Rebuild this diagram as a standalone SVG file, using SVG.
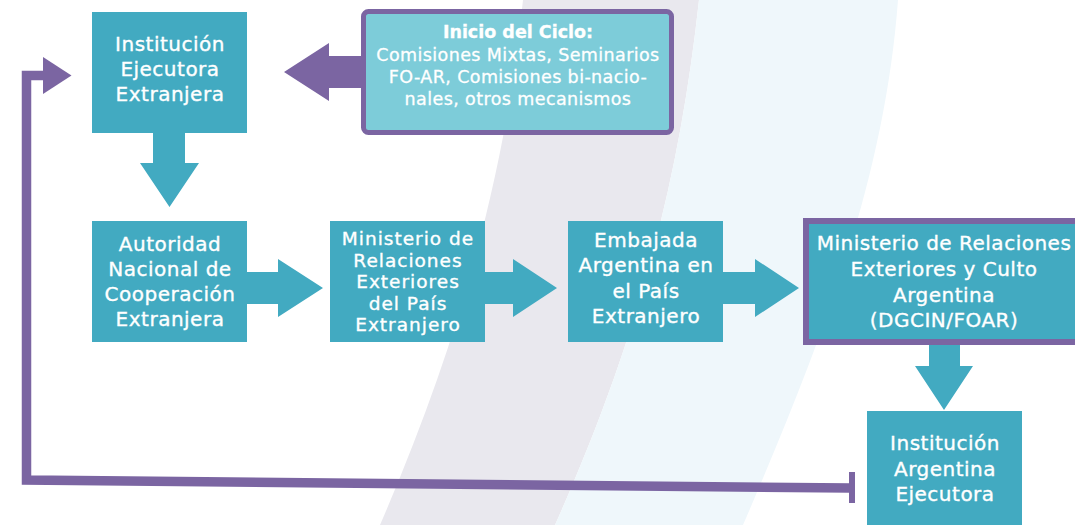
<svg xmlns="http://www.w3.org/2000/svg" width="1075" height="525" viewBox="0 0 1075 525">
<style>
.box{fill:#42aac1}
.arr{fill:#42aac1}
.t{font-family:"DejaVu Sans","Liberation Sans",sans-serif;font-size:20px;fill:#ffffff;stroke:#ffffff;stroke-width:0.35px;text-anchor:middle;letter-spacing:0.5px}
.tn{font-family:"DejaVu Sans","Liberation Sans",sans-serif;font-size:18.5px;fill:#ffffff;stroke:#ffffff;stroke-width:0.35px;text-anchor:middle;letter-spacing:1px}
.ts{font-family:"DejaVu Sans","Liberation Sans",sans-serif;font-size:17.5px;fill:#ffffff;stroke:#ffffff;stroke-width:0.3px;text-anchor:middle;letter-spacing:0.4px}
.pur{fill:#7b65a2}
</style>
<rect width="1075" height="525" fill="#ffffff"/>
<g id="background">
<path d="M523,0 L699,0 C680,175 640,335 555,525 L380,525 C460,340 505,175 523,0 Z" fill="#e9e8ee"/>
<path d="M699,0 L898,0 C885,175 825,335 743,525 L555,525 C640,335 680,175 699,0 Z" fill="#eff7fb"/>
</g>
<g id="connectors">
<path d="M153,132 H185 V163 H199 L169.5,207 L140,163 H153 Z" class="arr"/>
<path d="M361,56 V88 H329 V101 L284,72 L329,43 V56 Z" class="pur"/>
<path d="M247,272 H278 V259 L323,288 L278,317 V304 H247 Z" class="arr"/>
<path d="M485,272 H513 V259 L557,288 L513,317 V304 H485 Z" class="arr"/>
<path d="M723,272 H755 V259 L799,288 L755,317 V304 H723 Z" class="arr"/>
<path d="M929,345 H960 V366 H973 L944,410 L915,366 H929 Z" class="arr"/>
<path d="M850,488 L26.5,480 L26.5,75.5 L45,75.5" fill="none" stroke="#7b65a2" stroke-width="9.5" stroke-linejoin="miter"/>
<polygon points="43,57 71.5,75.5 43,94" class="pur"/>
<rect x="849" y="472" width="6" height="31" class="pur"/>
</g>
<g id="inicio">
<rect x="363.5" y="11.5" width="308" height="121" rx="5" fill="#7dccd9" stroke="#7b65a2" stroke-width="5"/>
<text class="ts" x="518" y="38" font-weight="bold" style="letter-spacing:0">Inicio del Ciclo:</text>
<text class="ts" x="518" y="60.5">Comisiones Mixtas, Seminarios</text>
<text class="ts" x="518" y="82.5">FO-AR, Comisiones bi-nacio-</text>
<text class="ts" x="518" y="104.5">nales, otros mecanismos</text>
</g>
<g id="inst-ejecutora-extranjera">
<rect x="92" y="12" width="155" height="121" class="box"/>
<text class="t" x="170" y="51">Institución</text>
<text class="t" x="170" y="76">Ejecutora</text>
<text class="t" x="170" y="101">Extranjera</text>
</g>
<g id="autoridad">
<rect x="92" y="221" width="155" height="121" class="box"/>
<text class="t" x="170" y="251">Autoridad</text>
<text class="t" x="170" y="276">Nacional de</text>
<text class="t" x="170" y="301">Cooperación</text>
<text class="t" x="170" y="326">Extranjera</text>
</g>
<g id="ministerio-extranjero">
<rect x="330" y="221" width="155" height="121" class="box"/>
<text class="tn" x="408" y="245">Ministerio de</text>
<text class="tn" x="408" y="266.5">Relaciones</text>
<text class="tn" x="408" y="288">Exteriores</text>
<text class="tn" x="408" y="309.5">del País</text>
<text class="tn" x="408" y="331">Extranjero</text>
</g>
<g id="embajada">
<rect x="568" y="221" width="155" height="121" class="box"/>
<text class="t" x="646" y="247">Embajada</text>
<text class="t" x="646" y="272">Argentina en</text>
<text class="t" x="646" y="297.5">el País</text>
<text class="t" x="646" y="323">Extranjero</text>
</g>
<g id="ministerio-argentina">
<rect x="806" y="221" width="274" height="121" fill="#42aac1" stroke="#7b65a2" stroke-width="6"/>
<text class="t" x="944" y="250">Ministerio de Relaciones</text>
<text class="t" x="944" y="276">Exteriores y Culto</text>
<text class="t" x="944" y="301.5">Argentina</text>
<text class="t" x="944" y="327">(DGCIN/FOAR)</text>
</g>
<g id="inst-argentina">
<rect x="867" y="411" width="155" height="120" class="box"/>
<text class="t" x="945" y="450">Institución</text>
<text class="t" x="945" y="476">Argentina</text>
<text class="t" x="945" y="501">Ejecutora</text>
</g>
</svg>
